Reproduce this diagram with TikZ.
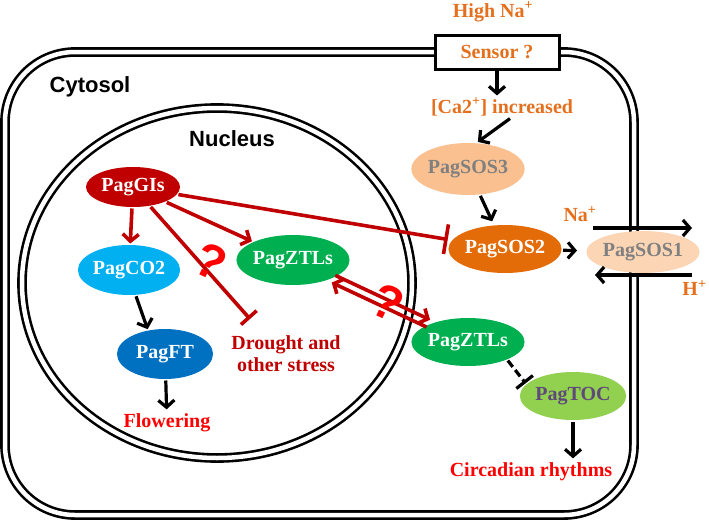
\documentclass[tikz,border=0pt]{standalone}
\usepackage{fontspec}
\setmainfont{Liberation Serif}
\newfontfamily\cellfont{Liberation Sans}
\usetikzlibrary{shapes.geometric}
\usetikzlibrary{arrows.meta}
\usetikzlibrary{positioning}
\definecolor{gired}{RGB}{192,0,0}
\definecolor{ionorange}{RGB}{228,112,30}
\definecolor{sosthree}{RGB}{250,192,144}
\definecolor{sostwo}{RGB}{227,108,9}
\definecolor{sosone}{RGB}{252,213,181}
\definecolor{cotwo}{RGB}{0,176,240}
\definecolor{ftblue}{RGB}{0,112,192}
\definecolor{ztlgreen}{RGB}{0,176,80}
\definecolor{tocgreen}{RGB}{146,208,80}
\definecolor{tocpurple}{RGB}{95,73,122}

\begin{document}
\begin{tikzpicture}[x=1pt,y=-1pt,>={Straight Barb[length=7pt,width=16pt]},
    line width=3pt,
    gene/.style={ellipse,inner sep=0pt,text=white,font=\fontsize{20}{22}\selectfont\bfseries},
    lbl/.style={inner sep=1pt,align=center,font=\fontsize{20}{22}\selectfont\bfseries},
    part/.style={inner sep=1pt,font=\cellfont\fontsize{22}{24}\selectfont\bfseries},
    membrane/.style={double,double distance=4.5pt,line width=2.6pt},
    blk/.style={->,line width=3.2pt},
    redarr/.style={->,line width=3.6pt,draw=gired},
    inhib/.style={-{Bar[width=#1]},line width=3.6pt,draw=gired},
    qmark/.style={text=red,font=\cellfont\fontsize{48}{48}\selectfont\bfseries,inner sep=0pt}]
   \useasboundingbox (0,0) rectangle (709,522);
   \begin{scope}
     % cell and nucleus
     \draw[membrane,rounded corners=70pt] (5,52) rectangle (634,515);
     \draw[membrane] (217,283) ellipse [x radius=195pt, y radius=175pt];
     \node[part] (cyto) at (90,87) {Cytosol};
     \node[part] (nuc) at (232,139) {Nucleus};

     % salt signal
     \node[lbl,text=ionorange] (high) at (493,12) {High Na\textsuperscript{+}};
     \node[lbl,text=ionorange,draw=black,fill=white,line width=3pt,minimum width=124pt,minimum height=34pt] (sensor) at (497,52) {Sensor ?};
     \node[lbl,text=ionorange] (ca) at (502,107) {[Ca2\textsuperscript{+}] increased};
     \node[gene,fill=sosthree,text=gray,minimum width=103pt,minimum height=52pt] (sos3) at (468,169) {PagSOS3};
     \node[gene,fill=sostwo,minimum width=105pt,minimum height=48pt] (sos2) at (505,249) {PagSOS2};
     \coordinate (naL) at (593,228);
     \coordinate (naR) at (692,228);
     \coordinate (hR) at (692,275);
     \coordinate (hL) at (595,275);
     \node[gene,fill=sosone,text=gray,minimum width=104pt,minimum height=42pt] (sos1) at (643,252) {PagSOS1};
     \node[lbl,text=ionorange] (na) at (580,214) {Na\textsuperscript{+}};
     \node[lbl,text=ionorange,anchor=east] (hplus) at (709,288) {H\textsuperscript{+}};

     % nucleus genes
     \node[gene,fill=gired,minimum width=94pt,minimum height=40pt] (gi) at (133,187) {PagGIs};
     \node[gene,fill=cotwo,minimum width=94pt,minimum height=50pt] (co2) at (129,270) {PagCO2};
     \node[gene,fill=ftblue,minimum width=96pt,minimum height=50pt] (ft) at (165,354) {PagFT};
     \node[lbl,text=red] (flw) at (167,423) {Flowering};
     \node[gene,fill=ztlgreen,minimum width=103pt,minimum height=50pt] (ztlN) at (293,260) {PagZTLs};
     \node[lbl,text=gired] (dr) at (286,354) {Drought and\\other stress};
     \coordinate (drbar) at (250,319);

     % cytosol genes
     \node[gene,fill=ztlgreen,minimum width=103pt,minimum height=48pt] (ztlC) at (468,342) {PagZTLs};
     \node[gene,fill=tocgreen,text=tocpurple,minimum width=95pt,minimum height=48pt] (toc) at (573,396) {PagTOC};
     \node[lbl,text=red] (circ) at (531,472) {Circadian rhythms};

     \path[blk] (sensor.south) edge (sensor.south |- ca.north);
     \path[blk] ([xshift=8pt]ca.south) edge (sos3.70);
     \path[blk,shorten >=3pt] (sos3) edge (sos2);
     \path[blk,shorten >=8pt] (sos2) edge (sos1);
     \path[blk] (naL) edge (naR);
     \path[blk] (hR) edge (hL);

     \path[redarr] (gi) edge (co2);
     \path[redarr] (gi) edge (ztlN);
     \path[inhib=21pt] (gi) edge (drbar);
     \path[inhib=30pt,shorten >=3pt] (gi) edge (sos2);
     \draw[redarr,transform canvas={shift={(1.8,-3.6)}}] (ztlN) -- (ztlC);
     \draw[redarr,<-,transform canvas={shift={(-1.8,3.6)}}] (ztlN) -- (ztlC);

     \path[blk] (co2.-75) edge (ft.125);
     \path[blk,shorten >=2pt] (ft) edge (flw);
     \path[-{Bar[width=21pt]},line width=3.2pt,dash pattern=on 8pt off 4pt] (ztlC.-25) edge (toc.165);
     \path[blk,shorten >=2pt] (toc.south) edge (toc.south |- circ.north);

     \node[qmark,rotate=-25] (q1) at (211,262) {?};
     \node[qmark,rotate=-25] (q2) at (388,303) {?};
   \end{scope}
  \end{tikzpicture}
\end{document}
